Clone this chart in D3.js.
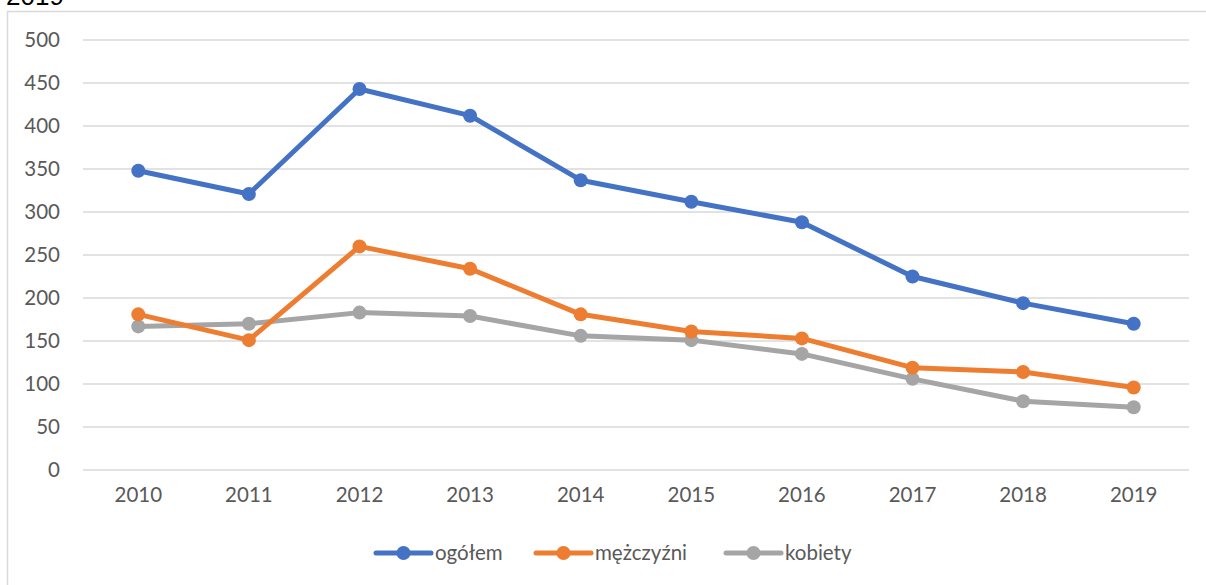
<!DOCTYPE html>
<html>
<head>
<meta charset="utf-8">
<script src="https://cdn.jsdelivr.net/npm/d3@7"></script>
<style>
  body { margin: 0; background: #fff; }
  svg { display: block; }
</style>
</head>
<body>
<svg id="chart"></svg>
<script>
// Data
const years = ["2010", "2011", "2012", "2013", "2014", "2015", "2016", "2017", "2018", "2019"];
const ogolem = [348, 321, 443, 412, 337, 312, 288, 225, 194, 170];
const mezczyzni = [181, 151, 260, 234, 181, 161, 153, 119, 114, 96];
const kobiety = [167, 170, 183, 179, 156, 151, 135, 106, 80, 73];
const yTicks = [0, 50, 100, 150, 200, 250, 300, 350, 400, 450, 500];

const seriesNames = ["ogółem", "mężczyźni", "kobiety"];
const seriesColors = ["#4472c4", "#ed7d31", "#a5a5a5"];
const seriesData = [ogolem, mezczyzni, kobiety];

const W = 1206, H = 585;
const svg = d3.select("#chart").attr("width", W).attr("height", H);
const font = "Lato, 'Open Sans', sans-serif";
const fontSize = "20.5px";

// Chart frame (partly cut off on the right and bottom)
svg.append("rect")
    .attr("x", 7.5).attr("y", 11.5)
    .attr("width", 1220).attr("height", 600)
    .attr("fill", "none")
    .attr("stroke", "#d9d9d9")
    .attr("stroke-width", 1.5);

// Title fragment above the frame
svg.append("text")
    .attr("x", 6).attr("y", 5)
    .style("font-family", "Arial, 'Liberation Sans', sans-serif")
    .style("font-size", "26px")
    .attr("fill", "#000")
    .text("2019");

const plot = { left: 83, right: 1189, top: 40, bottom: 470 };

const x = d3.scaleBand().domain(years).range([plot.left, plot.right]);
const y = d3.scaleLinear().domain([0, 500]).range([plot.bottom, plot.top]);

// Gridlines
svg.append("g")
    .selectAll("line")
    .data(yTicks)
    .enter().append("line")
    .attr("x1", plot.left).attr("x2", plot.right)
    .attr("y1", d => y(d)).attr("y2", d => y(d))
    .attr("stroke", "#d9d9d9")
    .attr("stroke-width", 1.5);

// Y axis labels
const yAxis = svg.append("g")
    .attr("transform", `translate(${plot.left - 23},0)`)
    .call(d3.axisLeft(y).tickValues(yTicks).tickSize(0).tickPadding(0));
yAxis.select(".domain").remove();
yAxis.selectAll("text")
    .style("font-family", font)
    .style("font-size", fontSize)
    .attr("fill", "#595959");

// X axis labels
const xAxis = svg.append("g")
    .attr("transform", `translate(0,${plot.bottom + 17})`)
    .call(d3.axisBottom(x).tickSize(0).tickPadding(0));
xAxis.select(".domain").remove();
xAxis.selectAll("text")
    .attr("dy", "0.71em")
    .style("font-family", font)
    .style("font-size", fontSize)
    .attr("fill", "#595959");

const cx = d => x(d) + x.bandwidth() / 2;

const line = d3.line()
    .x((d, i) => cx(years[i]))
    .y(d => y(d));

// Draw series: grey first, then orange, then blue on top
[2, 1, 0].forEach(s => {
    const g = svg.append("g");
    g.append("path")
        .datum(seriesData[s])
        .attr("d", line)
        .attr("fill", "none")
        .attr("stroke", seriesColors[s])
        .attr("stroke-width", 5)
        .attr("stroke-linejoin", "round")
        .attr("stroke-linecap", "round");
    g.selectAll("circle")
        .data(seriesData[s])
        .enter().append("circle")
        .attr("cx", (d, i) => cx(years[i]))
        .attr("cy", d => y(d))
        .attr("r", 7)
        .attr("fill", seriesColors[s]);
});

// Legend
const legendX = [376, 536, 726];
const legendY = 553;
const legend = svg.append("g");
seriesNames.forEach((name, i) => {
    const lg = legend.append("g").attr("transform", `translate(${legendX[i]},${legendY})`);
    lg.append("line")
        .attr("x1", 0).attr("x2", 55)
        .attr("y1", 0).attr("y2", 0)
        .attr("stroke", seriesColors[i])
        .attr("stroke-width", 5)
        .attr("stroke-linecap", "round");
    lg.append("circle")
        .attr("cx", 27.5).attr("cy", 0).attr("r", 7)
        .attr("fill", seriesColors[i]);
    lg.append("text")
        .attr("x", 59).attr("y", 0)
        .attr("dy", "0.35em")
        .style("font-family", font)
        .style("font-size", fontSize)
        .attr("fill", "#595959")
        .text(name);
});
</script>
</body>
</html>
